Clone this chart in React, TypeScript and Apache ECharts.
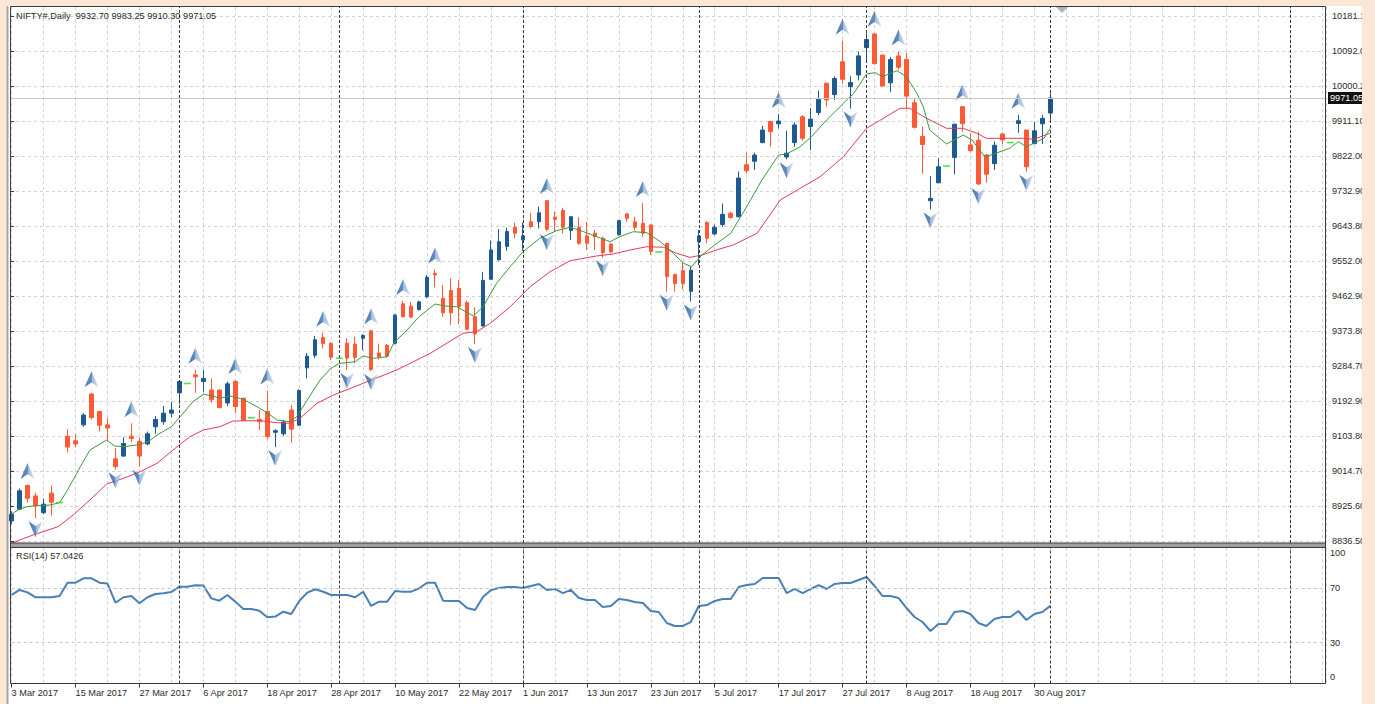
import React, { useEffect, useRef } from 'react';
import * as echarts from 'echarts';

// ---------- data ----------
const symbolName = 'NIFTY#,Daily';
const dateLabels = ['3 Mar 2017', '15 Mar 2017', '27 Mar 2017', '6 Apr 2017', '18 Apr 2017', '28 Apr 2017', '10 May 2017', '22 May 2017', '1 Jun 2017', '13 Jun 2017', '23 Jun 2017', '5 Jul 2017', '17 Jul 2017', '27 Jul 2017', '8 Aug 2017', '18 Aug 2017', '30 Aug 2017'];
const dateLabelStep = 8;
const priceTickLabels = ['8836.50', '8925.60', '9014.70', '9103.80', '9192.90', '9284.70', '9373.80', '9462.90', '9552.00', '9643.80', '9732.90', '9822.00', '9911.10', '10000.20', '10092.00', '10181.10'];
const rsiTickValues = [0, 30, 70, 100];
const rsiLevels = [30, 70];

const opens = [8888, 8918, 8979, 8952, 8909, 8959, 8935, 9105, 9093, 9134,
  9213, 9168, 9134, 9047, 9054, 9105, 9092, 9085, 9129, 9142,
  9164, 9216, 9240, 9262, 9245, 9223, 9223, 9190, 9245, 9202,
  9152, 9148, 9168, 9115, 9111, 9172, 9133, 9280, 9312, 9358,
  9343, 9304.5, 9343, 9341, 9356, 9375, 9318, 9338, 9343, 9444,
  9438, 9429, 9462, 9522, 9458, 9478, 9484, 9447, 9411, 9387,
  9507, 9557, 9591, 9640, 9608, 9654, 9654, 9708, 9666, 9683,
  9632, 9640, 9618, 9625, 9612, 9597, 9621, 9674, 9654, 9650,
  9646, 9577, 9599, 9519, 9529, 9476, 9603, 9652, 9623, 9647,
  9676, 9667, 9800, 9809, 9857, 9911, 9905, 9820, 9857, 9923,
  9898, 9934, 10009, 9980, 10064, 10000, 10030, 10100, 10135, 10081,
  10010, 10079, 10070, 9959, 9873, 9708, 9754, 9797, 9819, 9949,
  9851, 9863, 9825, 9803, 9879, 9857, 9906, 9889, 9854, 9905,
  9932.7];
const highs = [8912, 8971, 8980, 8960, 8945, 8979, 8935, 9123, 9111, 9164,
  9215, 9170, 9151, 9074, 9102, 9138, 9102, 9117, 9157, 9182,
  9193, 9249, 9240, 9275, 9275, 9253, 9225, 9245, 9249, 9204,
  9152, 9172, 9222, 9123, 9146, 9185, 9225, 9318, 9362, 9370,
  9345, 9304.5, 9356, 9360, 9366, 9376, 9342, 9341, 9418, 9451,
  9449, 9452, 9518, 9532, 9492, 9509, 9505, 9452, 9435, 9526,
  9606, 9635, 9639, 9652, 9652, 9677, 9693, 9710, 9680, 9690,
  9669, 9666, 9654, 9633, 9616, 9599, 9659, 9677, 9667, 9702,
  9647, 9577, 9600, 9520, 9550, 9540, 9633, 9656, 9647, 9701,
  9680, 9783, 9831, 9831, 9900, 9913, 9930, 9887, 9909, 9927,
  9945, 9990, 10010, 10027, 10118, 10027, 10090, 10137, 10138, 10082,
  10076, 10090, 10087, 9970, 9898, 9771, 9817, 9797, 9905, 9950,
  9881, 9885, 9828, 9860, 9883, 9857, 9928, 9889, 9910, 9928,
  9983.25];
const lows = [8880, 8916, 8935, 8895, 8905, 8902, 8935, 9063, 9077, 9129,
  9148, 9117, 9093, 9020, 9052, 9090, 9027, 9082, 9111, 9134,
  9153, 9187, 9240, 9216, 9219, 9191, 9177, 9182, 9164, 9145,
  9152, 9121, 9098, 9077, 9105, 9088, 9131, 9253, 9305, 9330,
  9300, 9304.5, 9275, 9292, 9325, 9272, 9301, 9307, 9340, 9409,
  9407, 9427, 9458, 9486, 9411, 9390, 9392, 9377, 9341, 9386,
  9505, 9554, 9580, 9612, 9580, 9637, 9637, 9630, 9629, 9624,
  9608, 9595, 9582, 9582, 9563, 9573, 9619, 9654, 9632, 9616,
  9569, 9577, 9475, 9475, 9481, 9450, 9543, 9599, 9620, 9641,
  9662, 9665, 9778, 9787, 9855, 9846, 9893, 9814, 9846, 9862,
  9838, 9927, 9949, 9966, 10008, 9944, 10016, 10067, 10057, 10000,
  9987, 10043, 9945, 9893, 9778, 9686, 9754, 9797, 9776, 9885,
  9834, 9748, 9754, 9787, 9852, 9857, 9882, 9782, 9853, 9853,
  9910.3];
const closes = [8905, 8965, 8946, 8927, 8931, 8936, 8935, 9077, 9085, 9159,
  9153, 9133, 9126, 9027, 9086, 9099, 9054, 9111, 9148, 9164,
  9172, 9245, 9240, 9257, 9253, 9198, 9178, 9239, 9181, 9146,
  9152, 9142, 9104, 9119, 9141, 9123, 9222, 9310, 9352, 9342,
  9307, 9304.5, 9305, 9307, 9363, 9276, 9309, 9310, 9415, 9411,
  9410, 9449, 9512, 9518, 9421, 9421, 9437, 9379, 9367, 9504,
  9582, 9603, 9629, 9625, 9618, 9642, 9677, 9635, 9660, 9640,
  9667, 9599, 9599, 9616, 9575, 9577, 9657, 9663, 9640, 9625,
  9578, 9577, 9514, 9496, 9496, 9530, 9618, 9612, 9640, 9673,
  9665, 9766, 9785, 9825, 9889, 9885, 9912, 9830, 9902, 9868,
  9917, 9968, 9966, 10021, 10019, 10011, 10079, 10121, 10059, 10002,
  10070, 10050, 9976, 9896, 9852, 9714, 9795, 9797, 9904, 9905,
  9836, 9751, 9776, 9850, 9864, 9857, 9913, 9795, 9887, 9919,
  9971.05];

const maFast = [[0, 8905.7], [0.8, 8915.9], [1.9, 8924.4], [3.1, 8926.9], [4.8, 8928.7], [6, 8934.6], [7, 8967.1], [8.6, 9026.8], [9.8, 9069.6], [11.9, 9095.2], [12.9, 9079.8], [14, 9078], [15.7, 9082.4], [17.1, 9090.8], [18.2, 9108], [20, 9129.3], [21.1, 9154.9], [22.7, 9193.3], [24, 9212.2], [25.2, 9207.9], [26.1, 9202], [27.3, 9207.9], [29, 9199.4], [30.7, 9180.5], [32, 9165.1], [33.2, 9146.4], [34.8, 9142.1], [35.7, 9154.9], [37, 9197.6], [38.6, 9248.9], [40, 9279.6], [41, 9291.1], [43, 9295.7], [44, 9310.3], [45.3, 9304.5], [47, 9308.5], [47.8, 9342.9], [49.5, 9376.9], [51, 9411], [53, 9443.5], [54.2, 9438.4], [55.7, 9436.6], [57.8, 9412.8], [59, 9436.6], [60.7, 9496.5], [62.4, 9539.1], [64, 9577.5], [66.1, 9611.8], [68.2, 9631.3], [69.9, 9640], [71.6, 9628.7], [73.2, 9615.9], [74.9, 9603.1], [76.1, 9615.9], [77.8, 9628.7], [79.5, 9626.1], [81.2, 9603.1], [82.8, 9573.4], [84.1, 9547.8], [85.1, 9539.1], [86.4, 9569], [88, 9594.6], [90, 9624.6], [92, 9692.7], [93.9, 9761.1], [96, 9825.2], [97, 9827.7], [98.7, 9846.4], [100.1, 9872], [102, 9914.8], [104.1, 9957.6], [105.4, 9983.2], [107, 10032.6], [108.1, 10036], [109, 10025.7], [110.8, 10041.1], [112, 10025.7], [113.3, 9983.2], [114.1, 9948.9], [114.9, 9889.2], [117, 9853.3], [119.1, 9876.4], [120.2, 9863.6], [121.8, 9820.8], [122.9, 9827.7], [124.9, 9842.3], [126, 9859.2], [127, 9846.4], [127.9, 9855.1], [129.2, 9867.9], [130, 9893.5]];
const maSlow = [[0, 8830.6], [1, 8839.1], [2.7, 8851.9], [5.8, 8873.1], [7.7, 8903.1], [9.8, 8941.5], [11.9, 8982.5], [14, 8997.1], [16.1, 9014], [18.2, 9035.5], [20.2, 9069.6], [22.3, 9103.6], [24, 9120.8], [26.1, 9129.3], [27.7, 9143.9], [31.1, 9144.6], [33.2, 9139.5], [34.8, 9138], [36.1, 9150.8], [38.2, 9189.2], [40.3, 9210.5], [42.1, 9225], [48.2, 9274.5], [52.4, 9317.3], [56.5, 9368.5], [58.2, 9372.6], [59.9, 9394.1], [62.4, 9436.6], [64.9, 9487.8], [67.4, 9526.3], [69.9, 9554.4], [73.2, 9566.5], [75.3, 9571.6], [77.4, 9581.8], [79.5, 9590.3], [81.6, 9588.8], [83.2, 9573.4], [84.9, 9563.1], [86.4, 9569], [88.2, 9581.8], [90.3, 9594.6], [93.3, 9624.6], [96.2, 9709.9], [98.7, 9739.9], [101.2, 9769.6], [104.1, 9820.8], [107, 9893.5], [108.6, 9913], [111.2, 9944.8], [112.4, 9944.8], [114.5, 9919.2], [117, 9893.5], [119.1, 9893.5], [120.8, 9880.8], [122, 9867.9], [124.5, 9867.9], [126.6, 9867.9], [127.9, 9865.4], [130, 9880.8]];

const rsi14 = [65.1, 68.8, 67, 63.4, 63.4, 63.4, 64.3, 74.1, 74.1, 77.3,
  77.3, 74.1, 73.5, 59.4, 63.4, 64.3, 59, 63.4, 65.8, 66.3,
  67.3, 71.2, 71.2, 72.2, 72, 62.6, 60.9, 65.1, 60.2, 54.8,
  54.8, 53.5, 48.7, 49.2, 52.8, 51.1, 60.7, 66.8, 69.3, 67.5,
  65.1, 65.1, 65.1, 63.4, 67.5, 57, 60.2, 60.2, 68, 67.5,
  67.5, 70, 74.1, 74.1, 60.9, 60.7, 60.7, 55.5, 54, 63.6,
  68.8, 70.2, 71, 71, 70.2, 71.7, 73.2, 68.8, 69.5, 66.5,
  68.8, 62.9, 61.4, 61.4, 56.3, 57, 62.1, 61.4, 59.9, 59.2,
  53.3, 52.6, 44.5, 42.3, 42.3, 45.2, 57, 57.7, 60.7, 62.1,
  62.1, 71, 72.4, 73.2, 77.6, 77.6, 77.6, 66.5, 69.5, 66.5,
  69.5, 72.4, 69.5, 73.2, 73.9, 73.9, 76.1, 78.3, 71.7, 64.3,
  64.3, 62.9, 55.5, 48.9, 45.2, 38.6, 43.8, 43.8, 52.6, 53.3,
  51.1, 44.5, 42.3, 47.4, 48.9, 48.9, 53.3, 46.7, 51.1, 52.6,
  57.0426];

const fractalUp = [2, 10, 15, 23, 28, 32, 39, 45, 49, 53, 67, 79, 96, 104, 108, 111, 119, 126];
const fractalDown = [3, 13, 16, 33, 42, 45, 58, 67, 74, 82, 85, 97, 105, 115, 121, 127];
const periodSeparators = [21, 41, 64, 86, 107, 130, 160];

// ---------- style ----------
const FONT = '"Liberation Sans", Arial, sans-serif';
const FS = 9.2;
const TXT = '#2b2b2b';
const PEACH = '#fce7d6';
const GRID_LINE = '#d2d2d2';
const UP = '#1d5a92';
const DOWN = '#ff5a36';
const X_MAX = 164.5;

const last = opens.length - 1;
const headerText = `${symbolName}  ${opens[last].toFixed(2)} ${highs[last].toFixed(2)} ${lows[last].toFixed(2)} ${closes[last].toFixed(2)}`;

const isDoji = (i: number) => opens[i] === closes[i] && highs[i] === lows[i];
const candleData = opens.map((o, i) => [i, o, closes[i], lows[i], highs[i]]).filter((_, i) => !isDoji(i));
const dojiData = opens.map((o, i) => [i, closes[i]]).filter((_, i) => isDoji(i));

const arrowGrad = () => ({
  type: 'linear', x: 0, y: 0, x2: 1, y2: 0,
  colorStops: [
    { offset: 0, color: '#1f5592' },
    { offset: 0.5, color: '#3f72ad' },
    { offset: 0.5, color: '#86a9d1' },
    { offset: 1, color: '#c9daee' },
  ],
});

const separatorLines = periodSeparators.map((i) => ({
  xAxis: i,
  lineStyle: { color: '#3a3a3a', type: [3, 2], width: 1 },
  label: { show: false },
}));

function buildOption() {
  const labelValues = dateLabels.map((_, k) => k * dateLabelStep);
  return {
    animation: false,
    backgroundColor: '#ffffff',
    textStyle: { fontFamily: FONT, fontSize: FS, color: TXT },
    grid: [
      { left: 11.6, top: 7, width: 1314.4, height: 536 },
      { left: 10, top: 16, width: 1316, height: 525 },
      { left: 11.6, top: 547.5, width: 1314.4, height: 136 },
    ],
    xAxis: [
      {
        gridIndex: 0, type: 'value', min: 0, max: X_MAX, interval: 4,
        axisLine: { show: false }, axisTick: { show: false }, axisLabel: { show: false },
        splitLine: { show: true, lineStyle: { color: GRID_LINE, type: [3, 3], width: 1 } },
      },
      { gridIndex: 1, type: 'value', min: 0, max: 1, show: false },
      {
        gridIndex: 2, type: 'value', min: 0, max: X_MAX, interval: 4,
        axisLine: { show: false }, axisTick: { show: false }, axisLabel: { show: false },
        splitLine: { show: true, lineStyle: { color: GRID_LINE, type: [3, 3], width: 1 } },
      },
      {
        gridIndex: 2, type: 'value', min: 0, max: X_MAX, position: 'bottom',
        axisLine: { show: false },
        axisTick: { show: true, customValues: labelValues, length: 4, lineStyle: { color: '#3a3a3a' } },
        axisLabel: {
          show: true, customValues: labelValues, align: 'left', margin: 5,
          fontFamily: FONT, fontSize: FS, color: TXT,
          formatter: (v: number) => dateLabels[Math.round(v / dateLabelStep)] ?? '',
        },
        splitLine: { show: false },
      },
    ],
    yAxis: [
      { gridIndex: 0, type: 'value', min: 8831.4, max: 10204.2, show: false },
      {
        gridIndex: 1, type: 'value', min: 0, max: priceTickLabels.length - 1, interval: 1, position: 'right',
        axisLine: { show: false },
        axisTick: { show: true, length: 4, lineStyle: { color: '#3a3a3a' } },
        axisLabel: {
          show: true, margin: 6, align: 'left', fontFamily: FONT, fontSize: FS, color: TXT,
          formatter: (v: number) => priceTickLabels[Math.round(v)] ?? '',
        },
        splitLine: { show: true, lineStyle: { color: GRID_LINE, type: [3, 3], width: 1 } },
      },
      {
        gridIndex: 2, type: 'value', min: 0, max: 100, position: 'right',
        axisLine: { show: false }, axisTick: { show: false }, splitLine: { show: false },
        axisLabel: {
          show: true, customValues: rsiTickValues, margin: 4, align: 'left',
          fontFamily: FONT, fontSize: FS, color: TXT,
          formatter: (v: number) => (v === 100 ? '{t|100}' : v === 0 ? '{b|0}' : `{m|${v}}`),
          rich: {
            t: { padding: [11, 0, 0, 0], fontFamily: FONT, fontSize: FS, color: TXT },
            b: { padding: [0, 0, 14, 0], fontFamily: FONT, fontSize: FS, color: TXT },
            m: { fontFamily: FONT, fontSize: FS, color: TXT },
          },
        },
      },
    ],
    series: [
      {
        type: 'candlestick', xAxisIndex: 0, yAxisIndex: 0, data: candleData, barWidth: 4, z: 2,
        clip: false,
        itemStyle: { color: UP, color0: DOWN, borderColor: UP, borderColor0: DOWN, borderWidth: 1 },
        markLine: {
          silent: true, symbol: ['none', 'none'], animation: false,
          data: [
            ...separatorLines,
            {
              yAxis: closes[last],
              lineStyle: { color: '#c9c9c9', type: 'solid', width: 1 },
              label: {
                show: true, position: 'end', distance: 2, formatter: closes[last].toFixed(2),
                color: '#ffffff', backgroundColor: '#111111', padding: [2, 4, 1, 2],
                fontFamily: FONT, fontSize: FS,
              },
            },
          ],
        },
      },
      {
        type: 'scatter', xAxisIndex: 0, yAxisIndex: 0, data: dojiData, symbol: 'rect', symbolSize: [7, 1.6], z: 3,
        itemStyle: { color: '#1fe01f' },
      },
      {
        type: 'line', xAxisIndex: 0, yAxisIndex: 0, data: maSlow, showSymbol: false, z: 3,
        lineStyle: { color: '#e23a5c', width: 1 },
      },
      {
        type: 'line', xAxisIndex: 0, yAxisIndex: 0, data: maFast, showSymbol: false, z: 3,
        lineStyle: { color: '#3a9a3a', width: 1 },
      },
      {
        type: 'scatter', xAxisIndex: 0, yAxisIndex: 0, z: 4,
        data: fractalUp.map((i) => [i, highs[i]]),
        symbol: 'path://M8,0 L16,20 L8,14 L0,20 Z', symbolSize: [14, 16], symbolOffset: [0, -14],
        itemStyle: { color: arrowGrad() },
      },
      {
        type: 'scatter', xAxisIndex: 0, yAxisIndex: 0, z: 4,
        data: fractalDown.map((i) => [i, lows[i]]),
        symbol: 'path://M0,0 L8,6 L16,0 L8,20 Z', symbolSize: [14, 16], symbolOffset: [0, 11],
        itemStyle: { color: arrowGrad() },
      },
      { type: 'line', xAxisIndex: 1, yAxisIndex: 1, data: [] },
      {
        type: 'line', xAxisIndex: 2, yAxisIndex: 2, data: rsi14.map((v, i) => [i, v]), showSymbol: false, z: 3,
        lineStyle: { color: '#4a80b6', width: 2 },
        markLine: {
          silent: true, symbol: ['none', 'none'], animation: false,
          data: [
            ...rsiLevels.map((lv) => ({ yAxis: lv, lineStyle: { color: '#c4c4c4', type: [3, 3], width: 1 }, label: { show: false } })),
            ...separatorLines,
          ],
        },
      },
    ],
    graphic: [
      { type: 'rect', z: 100, shape: { x: 0, y: 0, width: 1375, height: 6 }, style: { fill: PEACH } },
      { type: 'rect', z: 100, shape: { x: 0, y: 0, width: 6.5, height: 704 }, style: { fill: PEACH } },
      { type: 'rect', z: 100, shape: { x: 6.5, y: 6, width: 2, height: 698 }, style: { fill: '#a4a4a4' } },
      { type: 'rect', z: 100, shape: { x: 1362, y: 0, width: 13, height: 704 }, style: { fill: PEACH } },
      { type: 'rect', z: 99, shape: { x: 10, y: 543, width: 1316, height: 4 }, style: { fill: '#a0a0a0' } },
      { type: 'rect', z: 100, shape: { x: 10.5, y: 6.5, width: 1315, height: 677 }, style: { fill: 'none', stroke: '#3c3c3c', lineWidth: 1 } },
      { type: 'line', z: 100, shape: { x1: 10, y1: 543, x2: 1326, y2: 543 }, style: { stroke: '#3c3c3c', lineWidth: 1 } },
      { type: 'line', z: 100, shape: { x1: 10, y1: 547.5, x2: 1326, y2: 547.5 }, style: { stroke: '#3c3c3c', lineWidth: 1 } },
      { type: 'polygon', z: 100, shape: { points: [[1056, 7], [1068, 7], [1062, 13]] }, style: { fill: '#b4b4b4' } },
      {
        type: 'text', z: 100, x: 16, y: 16,
        style: { text: headerText, fill: TXT, fontFamily: FONT, fontSize: FS, verticalAlign: 'middle', align: 'left' },
      },
      {
        type: 'text', z: 100, x: 16, y: 556,
        style: { text: `RSI(14) ${rsi14[last].toFixed(4)}`, fill: TXT, fontFamily: FONT, fontSize: FS, verticalAlign: 'middle', align: 'left' },
      },
    ],
  };
}

export default function App() {
  const ref = useRef<HTMLDivElement>(null);
  useEffect(() => {
    if (!ref.current) return;
    const chart = echarts.init(ref.current, null, { renderer: 'svg', width: 1375, height: 704 });
    chart.setOption(buildOption() as any);
    return () => chart.dispose();
  }, []);
  return <div ref={ref} style={{ position: 'absolute', left: 0, top: 0, width: 1375, height: 704 }} />;
}
